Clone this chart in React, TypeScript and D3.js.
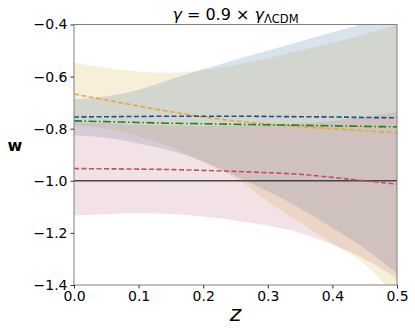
import { useEffect, useRef } from 'react';
import * as d3 from 'd3';

// redshift grid
const zs = [0, 0.05, 0.1, 0.15, 0.2, 0.25, 0.3, 0.35, 0.4, 0.45, 0.5];

// central lines
const blueW = [-0.755, -0.754, -0.753, -0.752, -0.752, -0.752, -0.753, -0.754, -0.755, -0.757, -0.758];
const greenW = [-0.770, -0.773, -0.776, -0.779, -0.781, -0.783, -0.785, -0.787, -0.789, -0.791, -0.793];
const orangeW = [-0.667, -0.69, -0.713, -0.735, -0.755, -0.77, -0.782, -0.792, -0.8, -0.808, -0.815];
const redW = [-0.953, -0.954, -0.955, -0.957, -0.96, -0.964, -0.969, -0.975, -0.987, -1.0, -1.013];

// bands
const blueUp = [-0.687, -0.675, -0.65, -0.61, -0.572, -0.535, -0.5, -0.465, -0.43, -0.395, -0.36];
const blueLo = [-0.825, -0.835, -0.857, -0.885, -0.925, -0.982, -1.04, -1.105, -1.18, -1.26, -1.355];
const orangeUp = [-0.547, -0.567, -0.58, -0.585, -0.575, -0.555, -0.53, -0.5, -0.47, -0.437, -0.4];
const orangeLo = [-0.787, -0.8, -0.83, -0.87, -0.93, -0.99, -1.08, -1.16, -1.24, -1.32, -1.45];
const redUp = [-0.775, -0.78, -0.785, -0.788, -0.79, -0.788, -0.785, -0.78, -0.77, -0.755, -0.735];
const redLo = [-1.133, -1.128, -1.125, -1.127, -1.137, -1.152, -1.172, -1.2, -1.245, -1.3, -1.375];

const xTicks = [0, 0.1, 0.2, 0.3, 0.4, 0.5];
const yTicks = [-0.4, -0.6, -0.8, -1.0, -1.2, -1.4];

export default function App() {
  const ref = useRef<SVGSVGElement>(null);

  useEffect(() => {
    const width = 415, height = 332;
    const margin = { top: 24.5, right: 18, bottom: 47, left: 74 };
    const svg = d3.select(ref.current);
    svg.selectAll('*').remove();

    const x = d3.scaleLinear().domain([0, 0.5]).range([margin.left, width - margin.right]);
    const y = d3.scaleLinear().domain([-1.4, -0.4]).range([height - margin.bottom, margin.top]);

    svg.append('defs').append('clipPath').attr('id', 'plotclip')
      .append('rect')
      .attr('x', margin.left).attr('y', margin.top)
      .attr('width', x(0.5) - x(0)).attr('height', y(-1.4) - y(-0.4));

    const g = svg.append('g').attr('clip-path', 'url(#plotclip)');

    const area = (lo: number[], up: number[]) =>
      d3.area<number>()
        .x((_, i) => x(zs[i]))
        .y0((_, i) => y(lo[i]))
        .y1((_, i) => y(up[i]))
        .curve(d3.curveMonotoneX)(zs);

    const bands = [
      { lo: orangeLo, up: orangeUp, color: '#dcaf41' },
      { lo: blueLo, up: blueUp, color: '#4173aa' },
      { lo: redLo, up: redUp, color: '#c36e7d' },
    ];
    bands.forEach(b => {
      g.append('path').attr('d', area(b.lo, b.up)).attr('fill', b.color).attr('fill-opacity', 0.2);
    });

    // w = -1 reference line
    g.append('line')
      .attr('x1', x(0)).attr('x2', x(0.5))
      .attr('y1', y(-1)).attr('y2', y(-1))
      .attr('stroke', '#444').attr('stroke-width', 1.5);

    const line = (vals: number[]) =>
      d3.line<number>().x((_, i) => x(zs[i])).y((_, i) => y(vals[i])).curve(d3.curveMonotoneX)(zs);

    const lines = [
      { v: redW, color: '#c44e64', dash: '5,2.5' },
      { v: orangeW, color: '#e8a838', dash: '5,2.5' },
      { v: greenW, color: '#138a13', dash: '8,2.5,1.5,2.5' },
      { v: blueW, color: '#1b4f91', dash: '5,2.5' },
    ];
    lines.forEach(l => {
      g.append('path').attr('d', line(l.v)).attr('fill', 'none')
        .attr('stroke', l.color).attr('stroke-width', 1.6).attr('stroke-dasharray', l.dash);
    });

    // frame
    svg.append('rect')
      .attr('x', x(0)).attr('y', y(-0.4))
      .attr('width', x(0.5) - x(0)).attr('height', y(-1.4) - y(-0.4))
      .attr('fill', 'none').attr('stroke', '#808080').attr('stroke-width', 1);

    // axes
    const xAxis = svg.append('g').attr('transform', `translate(0,${y(-1.4)})`)
      .call(d3.axisBottom(x).tickValues(xTicks).tickFormat(d3.format('.1f')).tickSize(3.5).tickPadding(3));
    const yAxis = svg.append('g').attr('transform', `translate(${x(0)},0)`)
      .call(d3.axisLeft(y).tickValues(yTicks).tickFormat(d => d3.format('.1f')(d as number).replace('-', '\u2212')).tickSize(3.5).tickPadding(3));
    [xAxis, yAxis].forEach(a => {
      a.select('.domain').remove();
      a.selectAll('line').attr('stroke', '#333');
      a.selectAll('text').attr('fill', '#000').style('font-family', 'DejaVu Sans').style('font-size', '14px');
    });

    // labels
    const title = svg.append('text')
      .attr('x', (x(0) + x(0.5)) / 2).attr('y', 19.5)
      .attr('text-anchor', 'middle')
      .style('font-family', 'DejaVu Sans').style('font-size', '16px');
    title.append('tspan').style('font-style', 'italic').text('γ');
    title.append('tspan').text(' = 0.9 × ');
    title.append('tspan').style('font-style', 'italic').text('γ');
    title.append('tspan').attr('dy', 3).style('font-size', '11.5px').text('ΛCDM');

    svg.append('text').attr('x', 15).attr('y', 151)
      .attr('text-anchor', 'middle')
      .style('font-family', 'DejaVu Sans').style('font-size', '16px').style('font-weight', 'bold')
      .text('w');

    svg.append('text').attr('x', (x(0) + x(0.5)) / 2).attr('y', 321)
      .attr('text-anchor', 'middle')
      .style('font-family', 'DejaVu Sans').style('font-size', '22px').style('font-style', 'italic')
      .text('z');
  }, []);

  return (
    <svg ref={ref} width={415} height={332}
      style={{ position: 'absolute', left: 0, top: 0, background: '#fff' }} />
  );
}
